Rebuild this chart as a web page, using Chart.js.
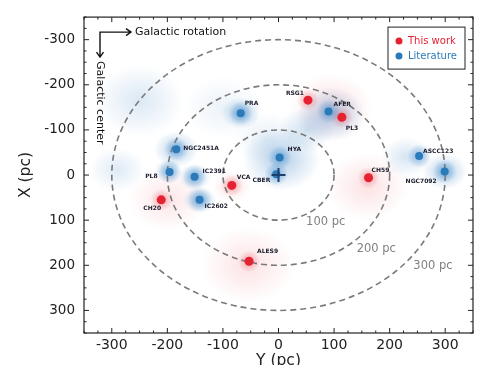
<!DOCTYPE html>
<html>
<head>
<meta charset="utf-8">
<script src="https://cdn.jsdelivr.net/npm/chart.js@4.4.1/dist/chart.umd.min.js"></script>
<style>
  html, body { margin: 0; padding: 0; background: #fff; }
  #wrap { width: 482px; height: 365px; }
</style>
</head>
<body>
<div id="wrap"><canvas id="map"></canvas></div>
<script>
// axis ticks (pc)
const tickValues = [-300, -200, -100, 0, 100, 200, 300];

// distance rings
const ringRadii = [100, 200, 300];
const ringLabels = ["100 pc", "200 pc", "300 pc"];
const ringLabelY = [85, 176, 278];
const ringLabelX = [104, 164, 202];

// clusters from this work (Y horizontal, X vertical)
const thisWorkNames = ["RSG1", "PL3", "VCA", "CH20", "CH59", "ALES9"];
const thisWorkY = [53, 114, -84, -211, 162, -53];
const thisWorkX = [-166, -128, 23, 55, 6, 191];

// clusters from literature
const litNames = ["PRA", "HYA", "CBER", "NGC2451A", "IC2391", "PL8", "IC2602", "ASCC123", "NGC7092", "AFER"];
const litY = [-68, 2, -4, -184, -151, -196, -142, 253, 299, 90];
const litX = [-137, -39, -2, -57, 4, -7, 55, -42, -8, -141];

// the Sun
const sunY = [0];
const sunX = [0];

// diffuse member clouds: centre, spread (pc), relative density
const litCloudY = [-68, 5, 95, 50, -250, -184, -290, -151, -142, 299, 230, -100, -200, -20];
const litCloudX = [-137, -35, -135, -100, -165, -57, -12, 4, 55, -8, -40, -150, -10, -80];
const litCloudR = [35, 70, 60, 50, 80, 40, 50, 30, 30, 40, 45, 70, 25, 60];
const litCloudW = [0.5, 0.45, 0.45, 0.3, 0.22, 0.45, 0.2, 0.4, 0.45, 0.45, 0.25, 0.12, 0.3, 0.15];

const redCloudY = [95, 160, -55, -200, -84];
const redCloudX = [-150, 25, 200, 55, 25];
const redCloudR = [75, 75, 85, 70, 35];
const redCloudW = [0.22, 0.2, 0.2, 0.18, 0.2];

const legendLabels = ["This work", "Literature"];

const RED = "#e52232";
const BLUE = "#2b7bba";
const FONT = "DejaVu Sans";

// label placement in px: [dx, dy, align]
const thisWorkLabelPos = [[-13, -7, "center"], [4, 11, "left"], [5, -8, "left"], [-9, 9, "center"], [3, -7, "left"], [8, -10, "left"]];
const litLabelPos = [[4, -10, "left"], [8, -8, "left"], [-6, 6, "right"], [7, -1, "left"], [8, -5, "left"],
  [-12, 5, "right"], [5, 7, "left"], [4, -5, "left"], [-8, 10, "right"], [5, -7, "left"]];

const toPts = (ys, xs) => ys.map((y, i) => ({ x: y, y: xs[i] }));

function cloud(ctx, sx, sy, y, x, r, w, rgb) {
  const cx = sx.getPixelForValue(y), cy = sy.getPixelForValue(x);
  const rx = Math.abs(sx.getPixelForValue(y + r) - cx);
  const ry = Math.abs(sy.getPixelForValue(x + r) - cy);
  ctx.save();
  ctx.translate(cx, cy);
  ctx.scale(1, ry / rx);
  const g = ctx.createRadialGradient(0, 0, 0, 0, 0, rx);
  g.addColorStop(0, `rgba(${rgb},${w})`);
  g.addColorStop(0.45, `rgba(${rgb},${w * 0.55})`);
  g.addColorStop(1, `rgba(${rgb},0)`);
  ctx.fillStyle = g;
  ctx.beginPath();
  ctx.arc(0, 0, rx, 0, Math.PI * 2);
  ctx.fill();
  ctx.restore();
}

function glow(ctx, px, py, rad, rgb, a) {
  const g = ctx.createRadialGradient(px, py, 0, px, py, rad);
  g.addColorStop(0, `rgba(${rgb},${a})`);
  g.addColorStop(1, `rgba(${rgb},0)`);
  ctx.fillStyle = g;
  ctx.beginPath();
  ctx.arc(px, py, rad, 0, Math.PI * 2);
  ctx.fill();
}

const mapPlugin = {
  id: "mapPlugin",
  beforeDatasetsDraw(chart) {
    const { ctx, chartArea: a, scales: { x: sx, y: sy } } = chart;
    ctx.save();
    ctx.beginPath();
    ctx.rect(a.left, a.top, a.right - a.left, a.bottom - a.top);
    ctx.clip();
    redCloudY.forEach((y, i) => cloud(ctx, sx, sy, y, redCloudX[i], redCloudR[i], redCloudW[i], "238,110,120"));
    litCloudY.forEach((y, i) => cloud(ctx, sx, sy, y, litCloudX[i], litCloudR[i], litCloudW[i], "90,150,205"));
    thisWorkY.forEach((y, i) => glow(ctx, sx.getPixelForValue(y), sy.getPixelForValue(thisWorkX[i]), 11, "235,80,90", 0.45));
    litY.forEach((y, i) => glow(ctx, sx.getPixelForValue(y), sy.getPixelForValue(litX[i]), 12, "50,130,200", 0.55));

    // rings
    const cx = sx.getPixelForValue(0), cy = sy.getPixelForValue(0);
    ctx.strokeStyle = "#7a7a7a";
    ctx.lineWidth = 1.6;
    ctx.setLineDash([6, 4]);
    ringRadii.forEach(r => {
      const rx = Math.abs(sx.getPixelForValue(r) - cx);
      const ry = Math.abs(sy.getPixelForValue(r) - cy);
      ctx.beginPath();
      ctx.ellipse(cx, cy, rx, ry, 0, 0, Math.PI * 2);
      ctx.stroke();
    });
    ctx.setLineDash([]);
    ctx.restore();

    ctx.save();
    ctx.font = `11.5px ${FONT}`;
    ctx.fillStyle = "#808080";
    ctx.textAlign = "center";
    ctx.textBaseline = "middle";
    ringLabels.forEach((t, i) => ctx.fillText(t, sx.getPixelForValue(ringLabelY[i]), sy.getPixelForValue(ringLabelX[i])));
    ctx.restore();
  },
  afterDatasetsDraw(chart) {
    const { ctx, chartArea: a, scales: { x: sx, y: sy } } = chart;
    ctx.save();
    // cluster names
    ctx.font = `bold 6px ${FONT}`;
    ctx.fillStyle = "#1b1b2b";
    ctx.textBaseline = "middle";
    const put = (names, ys, xs, pos) => names.forEach((n, i) => {
      const [dx, dy, al] = pos[i];
      ctx.textAlign = al;
      ctx.fillText(n, sx.getPixelForValue(ys[i]) + dx, sy.getPixelForValue(xs[i]) + dy);
    });
    put(thisWorkNames, thisWorkY, thisWorkX, thisWorkLabelPos);
    put(litNames, litY, litX, litLabelPos);

    // frame and inward ticks
    ctx.strokeStyle = "#222";
    ctx.lineWidth = 1.2;
    ctx.strokeRect(a.left, a.top, a.right - a.left, a.bottom - a.top);
    ctx.lineWidth = 1;
    ctx.beginPath();
    for (let v = -350; v <= 350; v += 25) {
      const len = v % 100 === 0 ? 5 : 2.5;
      const px = sx.getPixelForValue(v), py = sy.getPixelForValue(v);
      ctx.moveTo(px, a.bottom); ctx.lineTo(px, a.bottom - len);
      ctx.moveTo(px, a.top); ctx.lineTo(px, a.top + len);
      ctx.moveTo(a.left, py); ctx.lineTo(a.left + len, py);
      ctx.moveTo(a.right, py); ctx.lineTo(a.right - len, py);
    }
    ctx.stroke();

    // galactic orientation arrows
    const ox = a.left + 16, oy = a.top + 15;
    ctx.strokeStyle = "#111";
    ctx.lineWidth = 1.4;
    ctx.beginPath();
    ctx.moveTo(ox + 31, oy); ctx.lineTo(ox, oy); ctx.lineTo(ox, oy + 25);
    ctx.moveTo(ox + 26, oy - 3.5); ctx.lineTo(ox + 31, oy); ctx.lineTo(ox + 26, oy + 3.5);
    ctx.moveTo(ox - 3.5, oy + 20); ctx.lineTo(ox, oy + 25); ctx.lineTo(ox + 3.5, oy + 20);
    ctx.stroke();
    ctx.fillStyle = "#111";
    ctx.font = `11px ${FONT}`;
    ctx.textAlign = "left";
    ctx.textBaseline = "middle";
    ctx.fillText("Galactic rotation", ox + 35, oy);
    ctx.save();
    ctx.translate(ox, oy + 29);
    ctx.rotate(Math.PI / 2);
    ctx.fillText("Galactic center", 0, 0);
    ctx.restore();

    // legend
    const bx = a.right - 85, by = a.top + 10, bw = 77, bh = 42;
    ctx.fillStyle = "rgba(255,255,255,0.9)";
    ctx.fillRect(bx, by, bw, bh);
    ctx.strokeStyle = "#222";
    ctx.lineWidth = 1;
    ctx.strokeRect(bx, by, bw, bh);
    ctx.font = `10px ${FONT}`;
    [RED, BLUE].forEach((c, i) => {
      const yy = by + 14 + i * 15;
      ctx.fillStyle = c;
      ctx.beginPath();
      ctx.arc(bx + 11, yy, 3.5, 0, Math.PI * 2);
      ctx.fill();
      ctx.fillText(legendLabels[i], bx + 20, yy);
    });
    ctx.restore();
  }
};

const axisCommon = {
  type: "linear",
  min: -350,
  max: 350,
  grid: { display: false, drawTicks: false },
  border: { display: false },
  afterBuildTicks: s => { s.ticks = tickValues.map(v => ({ value: v })); }
};

new Chart(document.getElementById("map"), {
  type: "scatter",
  data: {
    datasets: [
      {
        label: "Sun",
        data: toPts(sunY, sunX),
        pointStyle: "cross",
        pointRadius: 7,
        borderColor: "#1d3f6e",
        borderWidth: 2
      },
      {
        label: legendLabels[0],
        data: toPts(thisWorkY, thisWorkX),
        backgroundColor: RED,
        borderWidth: 0,
        pointRadius: 4.5
      },
      {
        label: legendLabels[1],
        data: toPts(litY, litX),
        backgroundColor: BLUE,
        borderWidth: 0,
        pointRadius: 4
      }
    ]
  },
  options: {
    responsive: true,
    maintainAspectRatio: false,
    animation: false,
    layout: { padding: { top: 8, right: 7, left: 0, bottom: 0 } },
    plugins: { legend: { display: false }, tooltip: { enabled: false } },
    scales: {
      x: {
        ...axisCommon,
        afterFit: s => { s.height = 32; },
        ticks: { color: "#222", font: { family: FONT, size: 14 }, padding: 4, maxRotation: 0 },
        title: { display: true, text: "Y (pc)", color: "#222", font: { family: FONT, size: 15.5 }, padding: { top: 0, bottom: -5 } }
      },
      y: {
        ...axisCommon,
        reverse: true,
        afterFit: s => { s.width = 84; },
        ticks: { color: "#222", font: { family: FONT, size: 13.5 }, padding: 9 },
        title: { display: true, text: "X (pc)", color: "#222", font: { family: FONT, size: 15.5 }, padding: { top: 17, bottom: 0 } }
      }
    }
  },
  plugins: [mapPlugin]
});
</script>
</body>
</html>
